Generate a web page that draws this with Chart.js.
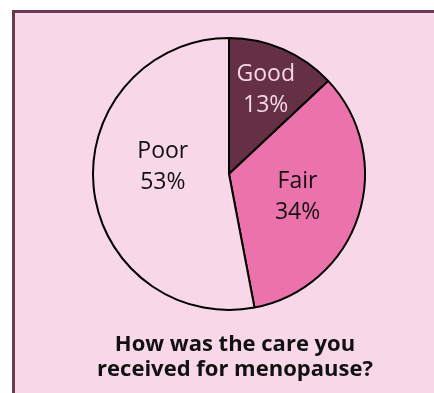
<!DOCTYPE html>
<html>
<head>
<meta charset="utf-8">
<script src="https://cdn.jsdelivr.net/npm/chart.js@4"></script>
<style>
  html, body { margin: 0; padding: 0; background: #ffffff; overflow: hidden; }
  body { width: 434px; height: 393px; position: relative; }
  .panel {
    position: absolute; left: 12px; top: 10px; width: 440px; height: 400px;
    background: #f8d8e8; border: 3px solid #693a50;
  }
  #care-chart { position: absolute; left: 0; top: 0; }
</style>
</head>
<body>
<div class="panel"></div>
<canvas id="care-chart" width="434" height="393"></canvas>
<script>
// ----- Data -----
const categories = ["Good", "Fair", "Poor"];
const shares = [13, 34, 53];
const sliceColors = ["#652f45", "#eb72ab", "#f8d8e8"];
const labelColors = ["#f6d8e5", "#111111", "#111111"];
const questionLines = ["How was the care you", "received for menopause?"];

// where each label sits inside its slice (fraction of radius, extra turn in degrees)
const labelRadius = [0.68, 0.53, 0.49];
const labelTurn = [0, 0, 12];

const sliceLabels = {
  id: "sliceLabels",
  afterDatasetsDraw(chart) {
    const ctx = chart.ctx;
    const arcs = chart.getDatasetMeta(0).data;
    ctx.save();
    ctx.font = '23px "Open Sans"';
    ctx.textAlign = "center";
    ctx.textBaseline = "middle";
    arcs.forEach((arc, i) => {
      const { x, y, startAngle, endAngle, outerRadius } = arc.getProps(
        ["x", "y", "startAngle", "endAngle", "outerRadius"], true);
      const mid = (startAngle + endAngle) / 2 + labelTurn[i] * Math.PI / 180;
      const r = outerRadius * labelRadius[i];
      const lx = x + Math.cos(mid) * r;
      const ly = y + Math.sin(mid) * r;
      ctx.fillStyle = labelColors[i];
      ctx.fillText(categories[i], lx, ly - 15);
      ctx.fillText(shares[i] + "%", lx, ly + 16);
    });

    // question underneath the pie
    ctx.font = 'bold 22px "Open Sans"';
    ctx.fillStyle = "#111111";
    ctx.textBaseline = "alphabetic";
    questionLines.forEach((line, i) => ctx.fillText(line, 235, 351 + i * 25));
    ctx.restore();
  }
};

new Chart(document.getElementById("care-chart"), {
  type: "pie",
  data: {
    labels: categories,
    datasets: [{
      data: shares,
      backgroundColor: sliceColors,
      borderColor: "#000000",
      borderWidth: 2
    }]
  },
  options: {
    responsive: false,
    animation: false,
    layout: { padding: { left: 92, right: 68, top: 37, bottom: 82 } },
    plugins: {
      legend: { display: false },
      tooltip: { enabled: false }
    }
  },
  plugins: [sliceLabels]
});
</script>
</body>
</html>
